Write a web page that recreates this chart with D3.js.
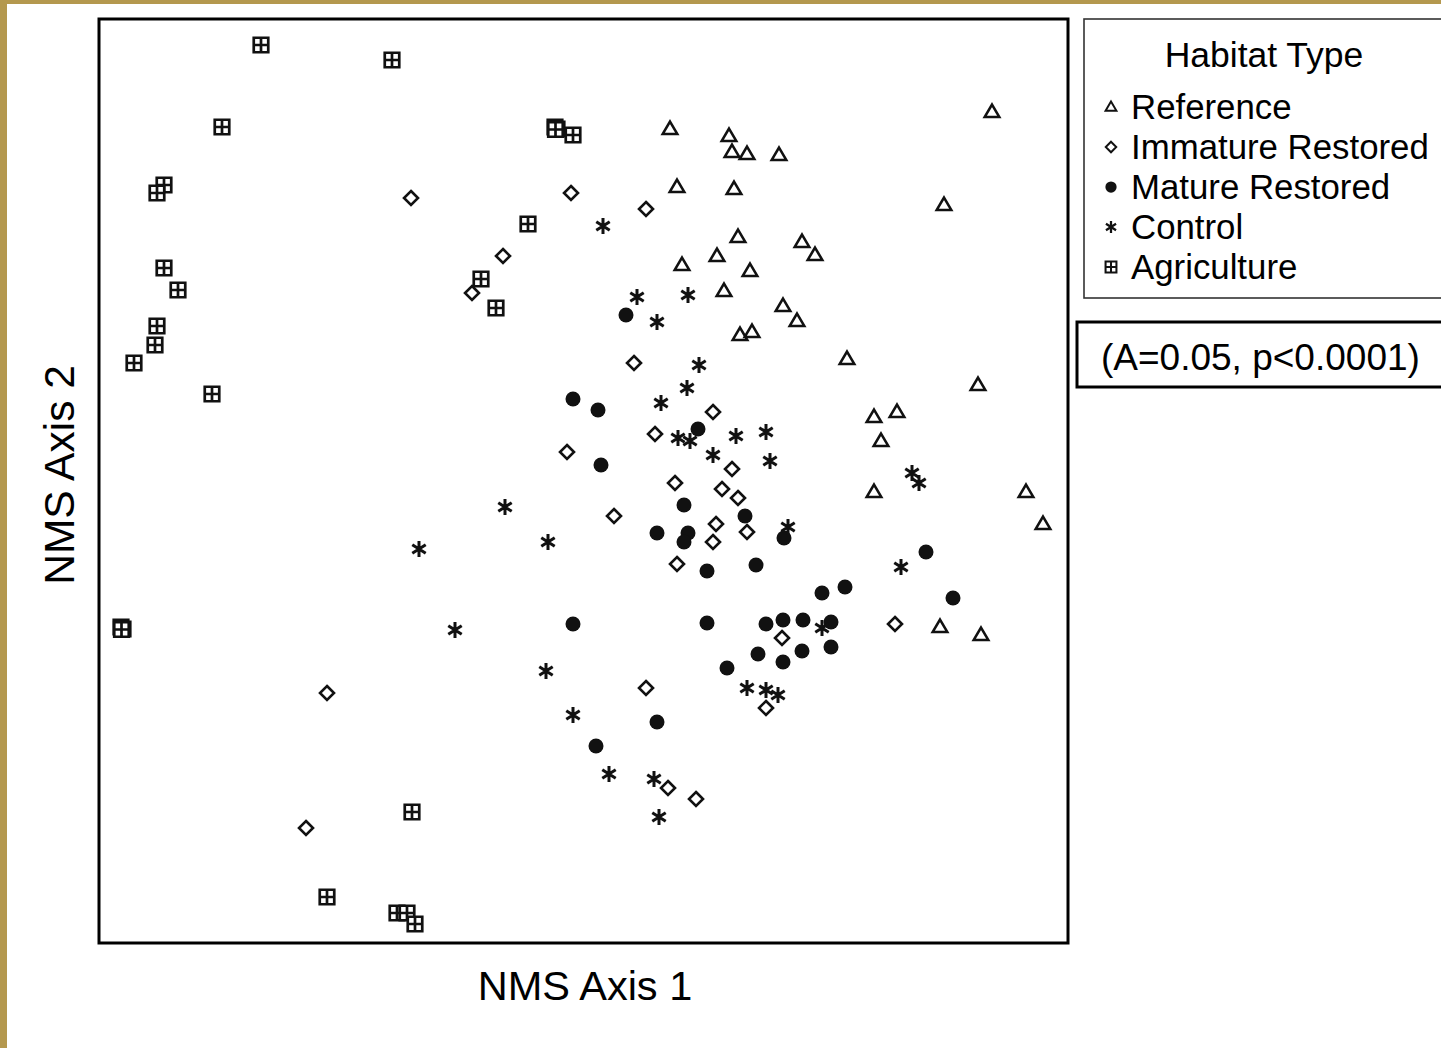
<!DOCTYPE html>
<html><head><meta charset="utf-8">
<script src="https://cdn.jsdelivr.net/npm/d3@7"></script>
<style>
html,body{margin:0;padding:0;background:#fff;}
svg{display:block;}
text{font-family:"Liberation Sans",Arial,sans-serif;fill:#000;}
</style></head>
<body>
<svg id="chart" width="1441" height="1048"></svg>
<script>
// NMS ordination scores (axis units)
const categories = ["Reference","Immature Restored","Mature Restored","Control","Agriculture"];

const agriculture = [[1.62,8.98],[2.93,8.83],[1.23,8.16],[4.56,8.16],[4.58,8.14],[4.565,8.135],[4.74,8.08],[0.65,7.58],[0.58,7.50],
 [4.29,7.19],[0.65,6.75],[0.79,6.53],[3.82,6.64],[3.97,6.35],[0.58,6.17],[0.56,5.98],[0.35,5.80],[1.13,5.49],
 [0.22,3.16],[0.24,3.14],[0.225,3.135],[3.13,1.31],[2.28,0.46],[2.98,0.30],[3.08,0.30],[3.16,0.19]];

const reference = [[5.71,8.14],[6.30,8.07],[6.33,7.91],[6.48,7.89],[6.80,7.88],[8.93,8.31],[5.78,7.56],[6.35,7.54],
 [8.45,7.38],[6.39,7.06],[6.18,6.87],[7.03,7.01],[7.16,6.88],[5.83,6.78],[6.51,6.72],[6.25,6.52],[6.84,6.37],
 [6.98,6.22],[6.41,6.08],[6.53,6.11],[7.48,5.84],[8.79,5.58],[7.75,5.26],[7.98,5.31],[7.82,5.02],[7.75,4.51],
 [9.27,4.51],[9.44,4.19],[8.41,3.16],[8.82,3.08]];

const immature = [[3.12,7.45],[4.72,7.50],[5.47,7.34],[4.04,6.87],[3.73,6.50],[5.35,5.80],[6.14,5.31],[5.56,5.09],
 [4.68,4.91],[6.33,4.74],[5.76,4.60],[6.23,4.54],[6.39,4.45],[5.15,4.27],[6.17,4.19],[6.48,4.11],[6.14,4.01],
 [5.78,3.79],[7.96,3.19],[6.83,3.05],[6.67,2.35],[5.47,2.55],[2.28,2.50],[2.07,1.15],[5.69,1.55],[5.97,1.44]];

const mature = [[5.27,6.28],[4.74,5.44],[4.99,5.33],[5.02,4.78],[5.99,5.14],[5.85,4.38],[6.46,4.27],[5.58,4.10],
 [5.89,4.10],[5.85,4.01],[6.08,3.72],[6.57,3.78],[6.85,4.05],[8.27,3.91],[8.54,3.45],[7.23,3.50],[7.46,3.56],
 [4.74,3.19],[6.08,3.20],[6.67,3.19],[6.84,3.23],[7.04,3.23],[7.32,3.21],[7.32,2.96],[7.03,2.92],[6.84,2.81],
 [6.59,2.89],[6.28,2.75],[5.58,2.21],[4.97,1.97]];

const control = [[5.04,7.17],[5.38,6.46],[5.89,6.48],[5.58,6.21],[6.00,5.78],[5.88,5.55],[5.62,5.40],[5.79,5.05],
 [5.91,5.02],[6.37,5.07],[6.67,5.11],[6.14,4.88],[6.71,4.82],[8.13,4.70],[8.20,4.60],[4.06,4.36],[6.89,4.16],
 [4.49,4.01],[3.20,3.94],[8.02,3.76],[3.56,3.13],[7.23,3.15],[4.47,2.72],[6.48,2.55],[6.67,2.53],[6.79,2.48],
 [4.74,2.28],[5.10,1.69],[5.55,1.64],[5.60,1.26]];

const xDomain = [0, 9.69];
const yDomain = [0, 9.24];
const xTitle = "NMS Axis 1";
const yTitle = "NMS Axis 2";
const legendTitle = "Habitat Type";
const statsText = "(A=0.05, p<0.0001)";

const svg = d3.select("#chart");
const W = 1441, H = 1048;
const plot = {left: 99, top: 19, right: 1068, bottom: 943};
const gold = "#b4984e";

svg.append("rect").attr("width", W).attr("height", H).attr("fill", "#fff");
svg.append("rect").attr("x",0).attr("y",0).attr("width",W).attr("height",4).attr("fill",gold);
svg.append("rect").attr("x",0).attr("y",0).attr("width",7).attr("height",H).attr("fill",gold);

const x = d3.scaleLinear().domain(xDomain).range([plot.left, plot.right]);
const y = d3.scaleLinear().domain(yDomain).range([plot.bottom, plot.top]);

// symbol path builders (shape only, centred on 0,0)
function triPath(s){ const h = s*0.85; return `M0,${-h*0.6}L${s/2},${h*0.4}L${-s/2},${h*0.4}Z`; }
function diaPath(s){ const r=s/2; return `M0,${-r}L${r},0L0,${r}L${-r},0Z`; }
function astPath(s){ const r=s/2; let p=""; [90,33,147].forEach(a=>{const c=Math.cos(a*Math.PI/180)*r, d=Math.sin(a*Math.PI/180)*r; p+=`M${-c},${-d}L${c},${d}`;}); return p; }
function sqPath(s){ const r=s/2; return `M${-r},${-r}H${r}V${r}H${-r}Z M0,${-r}V${r} M${-r},0H${r}`; }

function drawSymbol(g, type, scale){
  const k = scale || 1;
  if(type === "Reference"){
    g.append("path").attr("d", triPath(14.5*k)).attr("fill","#fff").attr("stroke","#111").attr("stroke-width",2.6*k).attr("stroke-linejoin","miter");
  } else if(type === "Immature Restored"){
    g.append("path").attr("d", diaPath(14*k)).attr("fill","#fff").attr("stroke","#111").attr("stroke-width",2.6*k);
  } else if(type === "Mature Restored"){
    g.append("circle").attr("r", 7.5*k).attr("fill","#111");
  } else if(type === "Control"){
    g.append("path").attr("d", astPath(16*k)).attr("fill","none").attr("stroke","#111").attr("stroke-width",3*k);
  } else {
    g.append("path").attr("d", sqPath(14.5*k)).attr("fill","#fff").attr("stroke","#111").attr("stroke-width",2.7*k);
  }
}

const series = [
  {name:"Agriculture", data: agriculture},
  {name:"Reference", data: reference},
  {name:"Immature Restored", data: immature},
  {name:"Mature Restored", data: mature},
  {name:"Control", data: control}
];

const pts = svg.append("g");
series.forEach(s => {
  pts.selectAll(null).data(s.data).enter().append("g")
    .attr("transform", d => `translate(${x(d[0])},${y(d[1])})`)
    .each(function(){ drawSymbol(d3.select(this), s.name, 1); });
});

// frame
svg.append("rect").attr("x",plot.left).attr("y",plot.top)
  .attr("width",plot.right-plot.left).attr("height",plot.bottom-plot.top)
  .attr("fill","none").attr("stroke","#000").attr("stroke-width",3);

// axis titles
svg.append("text").attr("x",585).attr("y",1000)
  .attr("text-anchor","middle").attr("font-size",41.5).text(xTitle);
svg.append("text").attr("transform","translate(74,475) rotate(-90)")
  .attr("text-anchor","middle").attr("font-size",42.5).text(yTitle);

// legend
svg.append("rect").attr("x",1084).attr("y",19).attr("width",400).attr("height",279)
  .attr("fill","#fff").attr("stroke","#333").attr("stroke-width",1.6);
svg.append("text").attr("x",1264).attr("y",67).attr("text-anchor","middle").attr("font-size",35.5).text(legendTitle);
const leg = svg.append("g");
categories.forEach((c,i) => {
  const gy = 107 + i*40;
  const g = leg.append("g").attr("transform",`translate(1111,${gy})`);
  drawSymbol(g, c, 0.75);
  leg.append("text").attr("x",1131).attr("y",gy+12).attr("font-size",34.8).text(c);
});

// stats box
svg.append("rect").attr("x",1077).attr("y",322).attr("width",400).attr("height",65)
  .attr("fill","#fff").attr("stroke","#000").attr("stroke-width",3);
svg.append("text").attr("x",1101).attr("y",370).attr("font-size",37).text(statsText);
</script>
</body></html>
